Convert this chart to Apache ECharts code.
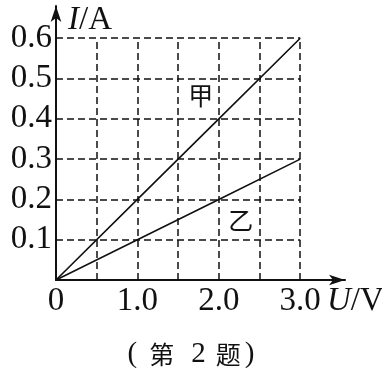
<!DOCTYPE html>
<html><head><meta charset="utf-8">
<script src="https://cdn.jsdelivr.net/npm/echarts@6/dist/echarts.min.js"></script>
<style>html,body{margin:0;padding:0;background:#fff}#c{width:382px;height:368px}</style>
</head><body><div id="c"></div>
<script>
// voltage U (V) and currents I (A)
const U = [0, 1.0, 2.0, 3.0];
const I_jia = [0, 0.2, 0.4, 0.6];
const I_yi = [0, 0.1, 0.2, 0.3];
const uGrid = [0.5, 1.0, 1.5, 2.0, 2.5, 3.0];
const iGrid = [0.1, 0.2, 0.3, 0.4, 0.5, 0.6];
const xTickValues = [0, 1.0, 2.0, 3.0];
const xTickLabels = ['0', '1.0', '2.0', '3.0'];
const yTickValues = [0.1, 0.2, 0.3, 0.4, 0.5, 0.6];
const yTickLabels = ['0.1', '0.2', '0.3', '0.4', '0.5', '0.6'];
const seriesNames = ['甲', '乙'];
const captionParts = ['(', '第', '2', '题', ')'];

const uMax = uGrid[uGrid.length - 1];
const iMax = iGrid[iGrid.length - 1];
const gridLines = [];
uGrid.forEach(u => gridLines.push([{coord: [u, 0]}, {coord: [u, iMax]}]));
iGrid.forEach(i => gridLines.push([{coord: [0, i]}, {coord: [uMax, i]}]));

function lookup(vals, texts, v) {
  for (let k = 0; k < vals.length; k++) if (Math.abs(vals[k] - v) < 1e-6) return texts[k];
  return '';
}
const serif = 'Liberation Serif';
const cjk = 'Noto Sans CJK SC';
const labelStyle = {fontFamily: cjk, fontSize: 25, color: '#111'};
const captionRich = '{p|' + captionParts[0] + '}{c1|' + captionParts[1] + '}{d|' + captionParts[2] +
  '}{c2|' + captionParts[3] + '}{q|' + captionParts[4] + '}';
const chart = echarts.init(document.getElementById('c'));
chart.setOption({
  animation: false,
  backgroundColor: '#fff',
  graphic: [{
    type: 'text', left: 'center', top: 340, silent: true,
    style: {
      text: captionRich, fill: '#111', fontFamily: serif, fontSize: 29,
      rich: {
        p: {fontFamily: serif, fontSize: 29, fill: '#111'},
        c1: {fontFamily: cjk, fontSize: 25, fill: '#111', padding: [0, 0, 0, 12]},
        d: {fontFamily: serif, fontSize: 29, fill: '#111', padding: [0, 0, 0, 17]},
        c2: {fontFamily: cjk, fontSize: 25, fill: '#111', padding: [0, 0, 0, 10]},
        q: {fontFamily: serif, fontSize: 29, fill: '#111', padding: [0, 0, 0, 4]}
      }
    }
  }],
  grid: {left: 56, right: 37, top: 6, bottom: 88, containLabel: false, outerBoundsMode: 'none'},
  xAxis: {
    type: 'value', min: 0, max: 3.55, interval: 0.5,
    axisLine: {show: true, symbol: ['none', 'arrow'], symbolSize: [8, 16], lineStyle: {color: '#111', width: 2}},
    axisTick: {show: false}, splitLine: {show: false},
    axisLabel: {
      margin: 5, color: '#111', fontFamily: serif, fontSize: 33, showMaxLabel: false,
      formatter: v => lookup(xTickValues, xTickLabels, v)
    },
    name: '{i|U}{n|/V}', nameLocation: 'end', nameGap: -18,
    nameTextStyle: {
      align: 'left', verticalAlign: 'top', padding: [5, 0, 0, 0],
      rich: {i: {fontFamily: serif, fontStyle: 'italic', fontSize: 33, color: '#111'},
             n: {fontFamily: serif, fontSize: 33, color: '#111'}}
    }
  },
  yAxis: {
    type: 'value', min: 0, max: 0.68, interval: 0.1,
    axisLine: {show: true, symbol: ['none', 'arrow'], symbolSize: [8, 16], lineStyle: {color: '#111', width: 2}},
    axisTick: {show: false}, splitLine: {show: false},
    axisLabel: {
      margin: 4, color: '#111', fontFamily: serif, fontSize: 33, showMaxLabel: false,
      formatter: v => lookup(yTickValues, yTickLabels, v)
    },
    name: '{i|I}{n|/A}', nameLocation: 'end', nameGap: -14,
    nameTextStyle: {
      align: 'left', verticalAlign: 'middle', padding: [0, 0, 0, 12],
      rich: {i: {fontFamily: serif, fontStyle: 'italic', fontSize: 33, color: '#111'},
             n: {fontFamily: serif, fontSize: 33, color: '#111'}}
    }
  },
  series: [
    {
      name: seriesNames[0], type: 'line', showSymbol: true, symbol: 'circle', symbolSize: 0,
      lineStyle: {color: '#111', width: 1.6}, itemStyle: {color: '#111'},
      label: {show: false},
      data: U.map((u, k) => k === 2 ? {value: [u, I_jia[k]], label: Object.assign({show: true, formatter: seriesNames[0], position: 'top', offset: [-18, -6]}, labelStyle)} : [u, I_jia[k]]),
      markLine: {
        silent: true, symbol: ['none', 'none'], label: {show: false},
        lineStyle: {color: '#111', width: 1.5, type: [7, 4]},
        data: gridLines
      },
      z: 3
    },
    {
      name: seriesNames[1], type: 'line', showSymbol: true, symbol: 'circle', symbolSize: 0,
      lineStyle: {color: '#111', width: 1.6}, itemStyle: {color: '#111'},
      label: {show: false},
      data: U.map((u, k) => k === 2 ? {value: [u, I_yi[k]], label: Object.assign({show: true, formatter: seriesNames[1], position: 'bottom', offset: [22, 4]}, labelStyle)} : [u, I_yi[k]]),
      z: 3
    }
  ]
});
</script></body></html>
